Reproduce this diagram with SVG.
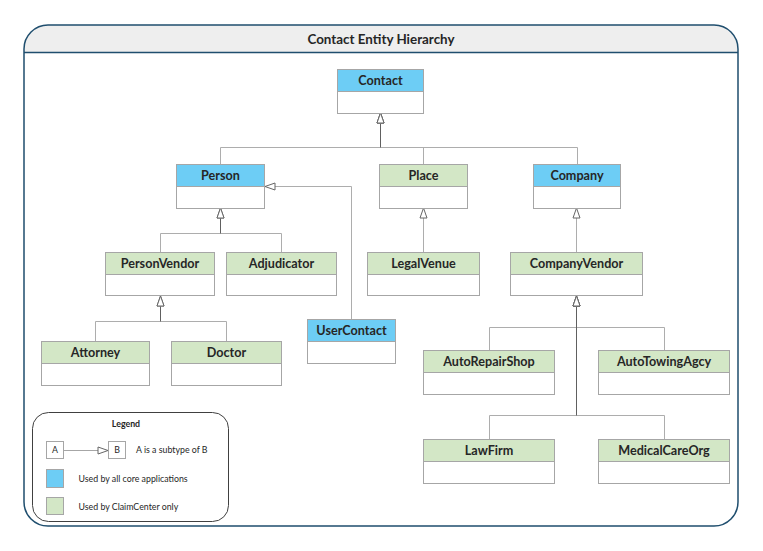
<svg xmlns="http://www.w3.org/2000/svg" width="763" height="551" viewBox="0 0 763 551">
<style>
  .box{fill:#ffffff;stroke:#a6a6a6;stroke-width:1}
  .blue{fill:#6dcdf5;stroke:#a6a6a6;stroke-width:1}
  .green{fill:#d3e7c6;stroke:#a6a6a6;stroke-width:1}
  .lbl{font-family:Lato,"Liberation Sans",sans-serif;font-weight:bold;font-size:12.6px;fill:#262626;text-anchor:middle}
  .edge{fill:none;stroke:#adadad;stroke-width:1;marker-end:url(#tri)}
  .trunk{fill:none;stroke:#606060;stroke-width:1}
  .leg{font-family:Lato,"Liberation Sans",sans-serif;font-size:8.8px;fill:#262626}
</style>
<defs>
  <marker id="tri" markerUnits="userSpaceOnUse" markerWidth="12" markerHeight="9" viewBox="0 0 12 9" refX="11" refY="4.5" orient="auto">
    <path d="M1,1 L11,4.5 L1,8 Z" fill="#ffffff" stroke="#666666" stroke-width="1"/>
  </marker>
</defs>
<rect width="763" height="551" fill="#ffffff"/>
<g id="frame">
  <path d="M24,52.5 V49 A24,24 0 0 1 48,25 H714 A24,24 0 0 1 738,49 V52.5 Z" fill="#eeeeee"/>
  <path d="M24,49 A24,24 0 0 1 48,25 H714 A24,24 0 0 1 738,49 V502 A24,24 0 0 1 714,526 H48 A24,24 0 0 1 24,502 Z" fill="none" stroke="#1f4e6e" stroke-width="1.5"/>
  <line x1="24" y1="52.5" x2="738" y2="52.5" stroke="#1f4e6e" stroke-width="1.5"/>
  <text x="381" y="43.5" style="font-family:Lato,'Liberation Sans',sans-serif;font-weight:bold;font-size:13.4px;fill:#262626;text-anchor:middle">Contact Entity Hierarchy</text>
</g>
<g id="connectors">
  <path class="edge" d="M220.5,164 V147.5 H380.5 V113"/>
  <path class="edge" d="M423.5,164 V147.5 H380.5 V113"/>
  <path class="edge" d="M577.5,164 V147.5 H380.5 V113"/>
  <path class="edge" d="M423.5,252 V208"/>
  <path class="edge" d="M576.5,252 V208"/>
  <path class="edge" d="M160.5,252 V233.5 H220.5 V208"/>
  <path class="edge" d="M281.5,252 V233.5 H220.5 V208"/>
  <path class="edge" d="M351.5,319 V186.5 H265"/>
  <path class="edge" d="M95.5,341 V321.5 H160.5 V296"/>
  <path class="edge" d="M226.5,341 V321.5 H160.5 V296"/>
  <path class="edge" d="M489.5,350 V327.5 H576.5 V296"/>
  <path class="edge" d="M664.5,350 V327.5 H576.5 V296"/>
  <path class="edge" d="M489.5,439 V415.5 H576.5 V296"/>
  <path class="edge" d="M664.5,439 V415.5 H576.5 V296"/>
  <path class="trunk" d="M380.5,147.5 V123.5"/>
  <path class="trunk" d="M220.5,233.5 V218.5"/>
  <path class="trunk" d="M160.5,321.5 V306.5"/>
  <path class="trunk" d="M576.5,415.5 V306.5"/>
</g>
<g id="Contact"><rect class="box" x="337.5" y="69.5" width="86" height="44"/><rect class="blue" x="337.5" y="69.5" width="86" height="22"/><text class="lbl" x="380.5" y="85.3">Contact</text></g>
<g id="Person"><rect class="box" x="176.5" y="164.5" width="88" height="44"/><rect class="blue" x="176.5" y="164.5" width="88" height="22"/><text class="lbl" x="220.5" y="180.3">Person</text></g>
<g id="Place"><rect class="box" x="379.5" y="164.5" width="88" height="44"/><rect class="green" x="379.5" y="164.5" width="88" height="22"/><text class="lbl" x="423.5" y="180.3">Place</text></g>
<g id="Company"><rect class="box" x="533.5" y="164.5" width="87" height="44"/><rect class="blue" x="533.5" y="164.5" width="87" height="22"/><text class="lbl" x="577" y="180.3">Company</text></g>
<g id="PersonVendor"><rect class="box" x="105.5" y="252.5" width="109" height="43"/><rect class="green" x="105.5" y="252.5" width="109" height="22"/><text class="lbl" x="160" y="268.3">PersonVendor</text></g>
<g id="Adjudicator"><rect class="box" x="226.5" y="252.5" width="110" height="43"/><rect class="green" x="226.5" y="252.5" width="110" height="22"/><text class="lbl" x="281.5" y="268.3">Adjudicator</text></g>
<g id="LegalVenue"><rect class="box" x="367.5" y="252.5" width="112" height="43"/><rect class="green" x="367.5" y="252.5" width="112" height="22"/><text class="lbl" x="423.5" y="268.3">LegalVenue</text></g>
<g id="CompanyVendor"><rect class="box" x="510.5" y="252.5" width="132" height="43"/><rect class="green" x="510.5" y="252.5" width="132" height="22"/><text class="lbl" x="576.5" y="268.3">CompanyVendor</text></g>
<g id="UserContact"><rect class="box" x="307.5" y="319.5" width="88" height="44"/><rect class="blue" x="307.5" y="319.5" width="88" height="22"/><text class="lbl" x="351.5" y="335.3">UserContact</text></g>
<g id="Attorney"><rect class="box" x="41.5" y="341.5" width="108" height="44"/><rect class="green" x="41.5" y="341.5" width="108" height="22"/><text class="lbl" x="95.5" y="357.3">Attorney</text></g>
<g id="Doctor"><rect class="box" x="171.5" y="341.5" width="110" height="44"/><rect class="green" x="171.5" y="341.5" width="110" height="22"/><text class="lbl" x="226.5" y="357.3">Doctor</text></g>
<g id="AutoRepairShop"><rect class="box" x="423.5" y="350.5" width="131" height="44"/><rect class="green" x="423.5" y="350.5" width="131" height="22"/><text class="lbl" x="489" y="366.3">AutoRepairShop</text></g>
<g id="AutoTowingAgcy"><rect class="box" x="598.5" y="350.5" width="131" height="44"/><rect class="green" x="598.5" y="350.5" width="131" height="22"/><text class="lbl" x="664" y="366.3">AutoTowingAgcy</text></g>
<g id="LawFirm"><rect class="box" x="423.5" y="439.5" width="131" height="44"/><rect class="green" x="423.5" y="439.5" width="131" height="22"/><text class="lbl" x="489" y="455.3">LawFirm</text></g>
<g id="MedicalCareOrg"><rect class="box" x="598.5" y="439.5" width="131" height="44"/><rect class="green" x="598.5" y="439.5" width="131" height="22"/><text class="lbl" x="664" y="455.3">MedicalCareOrg</text></g>
<g id="legend">
  <rect x="32.5" y="412.5" width="196" height="109" rx="16" ry="16" fill="#ffffff" stroke="#404040" stroke-width="1"/>
  <text class="leg" x="126" y="426.5" style="font-weight:bold;text-anchor:middle">Legend</text>
  <rect x="46.5" y="441.5" width="17" height="17" fill="#ffffff" stroke="#a6a6a6"/>
  <text class="leg" x="55" y="453" style="text-anchor:middle">A</text>
  <path d="M64,450.5 H108" fill="none" stroke="#a6a6a6" marker-end="url(#tri)"/>
  <rect x="108.5" y="441.5" width="17" height="17" fill="#ffffff" stroke="#a6a6a6"/>
  <text class="leg" x="117" y="453" style="text-anchor:middle">B</text>
  <text class="leg" x="136" y="453">A is a subtype of B</text>
  <rect x="46.5" y="469.5" width="17" height="18" fill="#6dcdf5" stroke="#a6a6a6"/>
  <text class="leg" x="78.5" y="481.5">Used by all core applications</text>
  <rect x="46.5" y="497.5" width="17" height="17" fill="#d3e7c6" stroke="#a6a6a6"/>
  <text class="leg" x="78.5" y="509.5">Used by ClaimCenter only</text>
</g>
</svg>
